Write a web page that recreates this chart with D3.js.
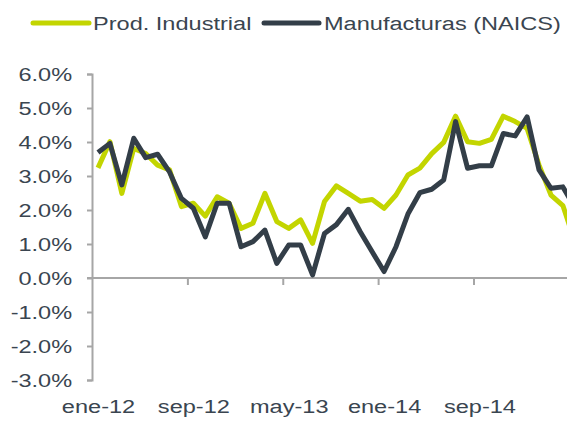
<!DOCTYPE html>
<html>
<head>
<meta charset="utf-8">
<script src="https://cdn.jsdelivr.net/npm/d3@7"></script>
<style>
  body { margin: 0; background: #fff; }
  svg { display: block; }
  text { font-family: Arial, "Liberation Sans", sans-serif; fill: #3a4550; }
</style>
</head>
<body>
<div class="chart"></div>
<script>
// monthly categories
var months = [
  "ene-12","feb-12","mar-12","abr-12","may-12","jun-12","jul-12","ago-12","sep-12","oct-12","nov-12","dic-12",
  "ene-13","feb-13","mar-13","abr-13","may-13","jun-13","jul-13","ago-13","sep-13","oct-13","nov-13","dic-13",
  "ene-14","feb-14","mar-14","abr-14","may-14","jun-14","jul-14","ago-14","sep-14","oct-14","nov-14","dic-14",
  "ene-15","feb-15","mar-15","abr-15","may-15"
];
// Prod. Industrial, % yoy
var prodIndustrial = [
  3.24, 4.01, 2.49, 3.81, 3.66, 3.32, 3.18, 2.10, 2.20, 1.82, 2.39, 2.20,
  1.46, 1.61, 2.49, 1.66, 1.46, 1.71, 1.02, 2.25, 2.71, 2.49, 2.26, 2.31,
  2.05, 2.44, 3.03, 3.23, 3.66, 3.99, 4.76, 4.01, 3.96, 4.08, 4.76, 4.60,
  4.40, 3.32, 2.44, 2.13, 1.07
];
// Manufacturas (NAICS), % yoy
var manufacturas = [
  3.69, 3.96, 2.74, 4.11, 3.54, 3.64, 3.12, 2.34, 2.05, 1.21, 2.20, 2.20,
  0.92, 1.07, 1.41, 0.43, 0.97, 0.97, 0.09, 1.31, 1.57, 2.02, 1.36, 0.77,
  0.19, 0.92, 1.88, 2.51, 2.61, 2.88, 4.60, 3.23, 3.30, 3.30, 4.25, 4.18,
  4.74, 3.18, 2.64, 2.68, 2.07
];
var labelMonths = ["ene-12", "sep-12", "may-13", "ene-14", "sep-14"];
var yTicks = [-3, -2, -1, 0, 1, 2, 3, 4, 5, 6];

var series = [
  { name: "Prod. Industrial", values: prodIndustrial, color: "#c3d500" },
  { name: "Manufacturas (NAICS)", values: manufacturas, color: "#333e48" }
];

var svgWidth = 567, svgHeight = 421;
var stretch = 1.24;   // text looks horizontally stretched in the original
var axisColor = "#a6a6a6";

var svg = d3.select(".chart").append("svg")
    .attr("width", svgWidth)
    .attr("height", svgHeight);

var x = d3.scalePoint().domain(months).range([98, 98 + 40 * 11.92]);
var y = d3.scaleLinear().domain([-3, 6]).range([380, 74]);
var step = x.step();

// y axis
var yAxis = svg.append("g")
    .attr("transform", "translate(92,0)")
    .call(d3.axisLeft(y)
      .tickValues(yTicks)
      .tickSize(5)
      .tickPadding(11)
      .tickFormat(function(d) { return d.toFixed(1) + "%"; }));
yAxis.select(".domain").attr("stroke", axisColor).attr("stroke-width", 2);
yAxis.selectAll(".tick line").attr("stroke", axisColor).attr("stroke-width", 2);
yAxis.selectAll(".tick text")
    .attr("font-size", 19)
    .attr("font-family", "Arial, 'Liberation Sans', sans-serif")
    .attr("fill", "#3a4550")
    .attr("dy", "0.35em")
    .attr("transform", "scale(" + stretch + ",1)");

// x axis line at zero
svg.append("line")
    .attr("x1", 87).attr("x2", svgWidth + 10)
    .attr("y1", y(0)).attr("y2", y(0))
    .attr("stroke", axisColor).attr("stroke-width", 2);

// x tick marks between categories
var xTickG = svg.append("g")
    .attr("transform", "translate(" + (-step / 2) + "," + y(0) + ")")
    .call(d3.axisBottom(x).tickValues(labelMonths.slice(1)).tickSize(7).tickFormat(""));
xTickG.select(".domain").remove();
xTickG.selectAll(".tick line").attr("stroke", axisColor).attr("stroke-width", 2);

// x labels
var xLab = svg.append("g")
    .attr("transform", "translate(0,397)")
    .call(d3.axisBottom(x).tickValues(labelMonths).tickSize(0));
xLab.select(".domain").remove();
xLab.selectAll(".tick text")
    .attr("font-size", 19)
    .attr("font-family", "Arial, 'Liberation Sans', sans-serif")
    .attr("fill", "#3a4550")
    .attr("transform", "scale(" + stretch + ",1)");

// lines
var line = d3.line()
    .x(function(d, i) { return x(months[i]); })
    .y(function(d) { return y(d); });

svg.selectAll(".serie")
    .data(series)
    .enter()
    .append("path")
    .attr("class", "serie")
    .attr("d", function(d) { return line(d.values); })
    .attr("fill", "none")
    .attr("stroke", function(d) { return d.color; })
    .attr("stroke-width", 5)
    .attr("stroke-linejoin", "round");

// legend
var legendPos = [{ x1: 33, x2: 89, tx: 93 }, { x1: 264, x2: 319, tx: 324 }];
var legend = svg.selectAll(".legend")
    .data(series)
    .enter()
    .append("g")
    .attr("class", "legend");
legend.append("line")
    .attr("x1", function(d, i) { return legendPos[i].x1; })
    .attr("x2", function(d, i) { return legendPos[i].x2; })
    .attr("y1", 23).attr("y2", 23)
    .attr("stroke", function(d) { return d.color; })
    .attr("stroke-width", 5)
    .attr("stroke-linecap", "round");
legend.append("text")
    .attr("transform", function(d, i) { return "translate(" + legendPos[i].tx + ",30) scale(" + stretch + ",1)"; })
    .attr("font-size", 19)
    .text(function(d) { return d.name; });
</script>
</body>
</html>
